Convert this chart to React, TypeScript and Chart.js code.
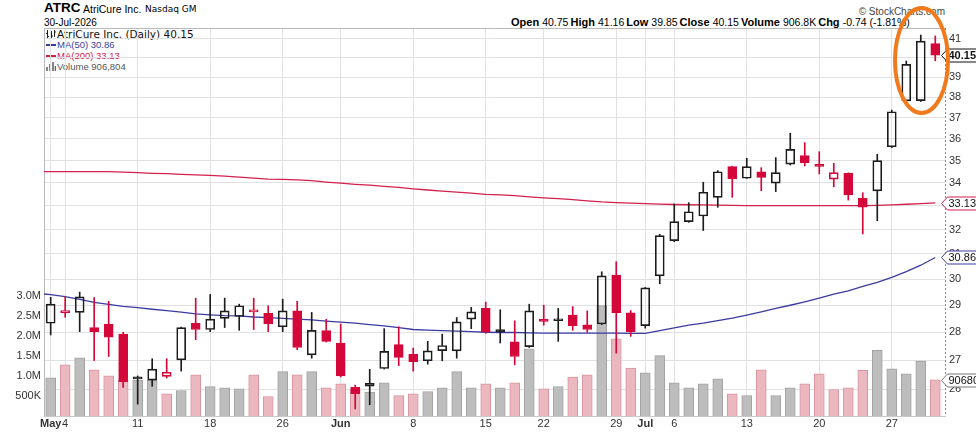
import React, { useEffect, useRef } from "react";
import { Chart, registerables } from "chart.js";

Chart.register(...registerables);

// ---------- data ----------
const dates = [
  "May 1", "May 4", "May 5", "May 6", "May 7", "May 8",
  "May 11", "May 12", "May 13", "May 14", "May 15",
  "May 18", "May 19", "May 20", "May 21", "May 22",
  "May 26", "May 27", "May 28", "May 29",
  "Jun 1", "Jun 2", "Jun 3", "Jun 4", "Jun 5",
  "Jun 8", "Jun 9", "Jun 10", "Jun 11", "Jun 12",
  "Jun 15", "Jun 16", "Jun 17", "Jun 18",
  "Jun 22", "Jun 23", "Jun 24", "Jun 25", "Jun 26",
  "Jun 29", "Jun 30", "Jul 1", "Jul 2",
  "Jul 6", "Jul 7", "Jul 8", "Jul 9", "Jul 10",
  "Jul 13", "Jul 14", "Jul 15", "Jul 16", "Jul 17",
  "Jul 20", "Jul 21", "Jul 22", "Jul 23", "Jul 24",
  "Jul 27", "Jul 28", "Jul 29", "Jul 30",
];

const opens = [
  28.33, 28.72, 28.73, 28.17, 28.30, 27.93,
  26.40, 26.31, 26.44, 27.01, 28.33,
  28.10, 28.51, 28.58, 28.75, 28.70,
  28.20, 28.79, 27.19, 28.06,
  27.61, 26.06, 26.10, 26.71, 27.55,
  27.21, 26.98, 27.34, 27.33, 28.48,
  28.88, 28.05, 27.65, 27.48,
  28.44, 28.42, 28.63, 28.27, 28.30,
  30.16, 28.72, 28.24, 30.13,
  31.54, 32.33, 32.57, 33.37, 34.73,
  34.21, 34.50, 33.99, 34.84, 35.23,
  34.78, 34.17, 34.43, 33.33, 33.65,
  35.64, 37.83, 37.84, 40.75,
];
const highs = [
  29.30, 29.32, 29.50, 29.29, 29.15, 28.00,
  26.45, 27.05, 27.05, 28.19, 29.27,
  29.41, 29.27, 29.04, 29.27, 28.98,
  29.23, 29.15, 28.73, 28.48,
  28.30, 26.14, 26.68, 28.13, 28.20,
  27.43, 27.67, 27.93, 28.54, 28.92,
  29.12, 28.83, 28.42, 29.04,
  29.00, 28.88, 28.95, 28.79, 30.29,
  30.69, 28.80, 29.68, 31.80,
  33.08, 33.14, 34.03, 34.55, 34.75,
  35.11, 34.68, 35.14, 36.27, 35.83,
  35.41, 34.88, 34.45, 33.57, 35.29,
  37.38, 39.84, 41.21, 41.16,
];
const lows = [
  27.90, 28.55, 28.02, 26.99, 27.13, 26.06,
  25.50, 26.10, 26.38, 26.62, 27.73,
  28.02, 28.17, 28.07, 28.10, 28.02,
  28.02, 27.37, 27.07, 27.65,
  26.42, 25.34, 25.48, 26.69, 26.81,
  26.62, 26.86, 26.98, 27.07, 28.13,
  27.96, 27.61, 26.84, 27.45,
  28.26, 27.67, 28.07, 28.00, 28.28,
  27.25, 27.85, 28.15, 29.82,
  31.50, 32.30, 31.96, 32.94, 33.37,
  34.20, 33.66, 33.62, 34.80, 34.76,
  34.40, 33.83, 33.25, 31.82, 32.37,
  35.60, 37.80, 37.80, 39.85,
];
const closes = [
  29.04, 28.80, 29.32, 28.02, 27.82, 26.26,
  26.35, 26.69, 26.58, 28.17, 28.10,
  28.48, 28.79, 28.98, 28.82, 28.30,
  28.79, 27.45, 28.07, 27.67,
  26.45, 25.85, 26.20, 27.31, 27.10,
  26.95, 27.33, 27.52, 28.38, 28.75,
  28.00, 28.02, 27.13, 28.79,
  28.40, 28.44, 28.24, 28.10, 30.13,
  28.72, 28.02, 29.66, 31.75,
  32.33, 32.75, 33.59, 34.50, 34.18,
  34.73, 34.25, 34.46, 35.52, 34.91,
  34.74, 34.46, 33.47, 32.94, 35.00,
  37.30, 39.67, 40.89, 40.15,
];
const priorClose = 28.5; // close of Apr 30, before the first bar

const volumes = [
  955000, 1280000, 1455000, 1155000, 1005000, 900000,
  900000, 890000, 555000, 637000, 1030000,
  737000, 705000, 680000, 1030000, 487000,
  1110000, 1030000, 1110000, 705000,
  805000, 680000, 595000, 830000, 512000,
  555000, 612000, 705000, 1110000, 705000,
  805000, 705000, 830000, 1680000,
  680000, 737000, 970000, 1030000, 2760000,
  1930000, 1200000, 1080000, 1510000,
  830000, 705000, 805000, 930000, 555000,
  512000, 1155000, 512000, 705000, 805000,
  1055000, 662000, 705000, 1140000, 1640000,
  1180000, 1055000, 1370000, 906804,
];

// moving averages: first value is Apr 30 (the day before the first bar), then one per bar
const ma50 = [
  29.46,
  29.40, 29.33, 29.22, 29.11, 29.03, 28.96,
  28.91, 28.85, 28.80, 28.74, 28.68,
  28.64, 28.61, 28.60, 28.56, 28.54,
  28.51, 28.48, 28.45, 28.41,
  28.37, 28.33, 28.28, 28.23, 28.17,
  28.10, 28.08, 28.06, 28.04, 28.02,
  28.00, 27.99, 27.99, 27.98,
  27.97, 27.97, 27.97, 27.97, 27.97,
  27.97, 27.96, 27.96, 28.06,
  28.16, 28.26, 28.33, 28.43, 28.52,
  28.63, 28.75, 28.88, 29.00, 29.13,
  29.27, 29.42, 29.55, 29.72, 29.88,
  30.07, 30.30, 30.55, 30.86,
];
const ma200 = [
  34.50,
  34.50, 34.50, 34.50, 34.50, 34.50, 34.48,
  34.46, 34.43, 34.41, 34.38, 34.36,
  34.34, 34.30, 34.26, 34.21, 34.17,
  34.16, 34.14, 34.10, 34.04,
  33.99, 33.94, 33.90, 33.85, 33.80,
  33.74, 33.69, 33.64, 33.60, 33.55,
  33.50, 33.48, 33.44, 33.39,
  33.35, 33.31, 33.27, 33.22, 33.17,
  33.14, 33.12, 33.10, 33.08,
  33.06, 33.05, 33.04, 33.03, 33.02,
  33.01, 33.01, 33.01, 33.01, 33.01,
  33.01, 33.01, 33.01, 33.01, 33.02,
  33.04, 33.07, 33.10, 33.13,
];

const xTickIndex = [0, 1, 6, 11, 16, 20, 25, 30, 34, 39, 41, 43, 48, 53, 58];
const xTickLabels = ["May", "4", "11", "18", "26", "Jun", "8", "15", "22", "29", "Jul", "6", "13", "20", "27"];
const monthLabels = ["May", "Jun", "Jul"];
const priceTicks = [26, 27, 28, 29, 30, 31, 32, 33, 34, 35, 36, 37, 38, 39, 40, 41];
const volumeTicks = [500000, 1000000, 1500000, 2000000, 2500000, 3000000];
const volumeTickLabels = ["500K", "1.0M", "1.5M", "2.0M", "2.5M", "3.0M"];

// ---------- styles ----------
const SANS = "'Liberation Sans', Arial, Helvetica, sans-serif";
const VERA = "'DejaVu Sans', Verdana, sans-serif";
const RED = "#d4073a";
const BLACK = "#1c1c1c";
const MA50_COLOR = "#3b3ba0";
const MA200_COLOR = "#d3204c";
const GRID = "#e1e1e1";
const ORANGE = "#f07a1c";

const last = closes.length - 1;

function Label(props: {
  x: number; base: number; size: number; font?: string; bold?: boolean;
  color?: string; right?: boolean; children: any;
}) {
  const style: any = {
    position: "absolute",
    top: props.base - 0.85 * props.size,
    fontSize: props.size,
    lineHeight: props.size + "px",
    fontFamily: props.font || SANS,
    fontWeight: props.bold ? 700 : 400,
    color: props.color || "#000",
    whiteSpace: "nowrap",
  };
  if (props.right) style.right = 976 - props.x;
  else style.left = props.x;
  return <div style={style}>{props.children}</div>;
}

export default function App() {
  const ref = useRef<HTMLCanvasElement | null>(null);

  useEffect(() => {
    document.body.style.margin = "0";
    const canvas = ref.current;
    if (!canvas) return;

    const prev = closes.map((_, i) => (i === 0 ? priorClose : closes[i - 1]));
    const candleColor = closes.map((c, i) => (c >= prev[i] ? BLACK : RED));
    const hollow = closes.map((c, i) => c >= opens[i]);
    const bodyFill = hollow.map((h, i) => (h ? "rgba(255,255,255,0)" : candleColor[i]));
    const volFill = closes.map((c, i) => (c >= prev[i] ? "#bdbdbd" : "#ebb8c0"));
    const volBorder = closes.map((c, i) => (c >= prev[i] ? "#a2a2a2" : "#d9949f"));

    const bodyData = opens.map((o, i) => ({ x: i, y: [o, closes[i]] }));
    const upperWick = opens.map((o, i) => ({ x: i, y: [Math.max(o, closes[i]), highs[i]] }));
    const lowerWick = opens.map((o, i) => ({ x: i, y: [lows[i], Math.min(o, closes[i])] }));
    const volData = volumes.map((v, i) => ({ x: i, y: v }));
    const ma50Data = ma50.map((v, i) => ({ x: i - 1, y: v }));
    const ma200Data = ma200.map((v, i) => ({ x: i - 1, y: v }));

    const framePlugin = {
      id: "frame",
      beforeDatasetsDraw(chart: any) {
        const { ctx, chartArea } = chart;
        ctx.save();
        ctx.strokeStyle = "#b9b9b9";
        ctx.lineWidth = 1;
        ctx.beginPath();
        ctx.moveTo(chartArea.left, chartArea.top + 0.5);
        ctx.lineTo(chartArea.right, chartArea.top + 0.5);
        ctx.stroke();
        // dotted price-axis line
        ctx.strokeStyle = "#8a8a8a";
        ctx.setLineDash([2, 2]);
        ctx.beginPath();
        ctx.moveTo(chartArea.right + 0.5, chartArea.top);
        ctx.lineTo(chartArea.right + 0.5, chartArea.bottom);
        ctx.stroke();
        ctx.restore();
      },
    };

    const tags = [
      { axis: "y", value: closes[last], text: closes[last].toFixed(2), stroke: "#111", bold: true },
      { axis: "y", value: ma200[ma200.length - 1], text: ma200[ma200.length - 1].toFixed(2), stroke: MA200_COLOR, bold: false },
      { axis: "y", value: ma50[ma50.length - 1], text: ma50[ma50.length - 1].toFixed(2), stroke: MA50_COLOR, bold: false },
      { axis: "yVol", value: volumes[last], text: String(volumes[last]), stroke: "#777", bold: false },
    ];

    const tagPlugin = {
      id: "tags",
      afterDraw(chart: any) {
        const { ctx, chartArea, width } = chart;
        ctx.save();
        for (const t of tags) {
          const y = Math.round(chart.scales[t.axis].getPixelForValue(t.value)) + 0.5;
          const tip = chartArea.right - 3.5;
          const h = 6.5;
          ctx.beginPath();
          ctx.moveTo(tip, y);
          ctx.lineTo(tip + 6, y - h);
          ctx.lineTo(width + 2, y - h);
          ctx.lineTo(width + 2, y + h);
          ctx.lineTo(tip + 6, y + h);
          ctx.closePath();
          ctx.fillStyle = "#fff";
          ctx.fill();
          ctx.strokeStyle = t.stroke;
          ctx.lineWidth = 1;
          ctx.stroke();
          ctx.fillStyle = "#111";
          ctx.font = (t.bold ? "bold " : "") + "11px " + SANS;
          ctx.textBaseline = "middle";
          ctx.textAlign = "left";
          ctx.fillText(t.text, tip + 7, y + 0.5);
        }
        // highlight ellipse around the last bars
        const cx = chart.scales.x.getPixelForValue(60.05);
        const cy = chart.scales.y.getPixelForValue(39.87);
        ctx.beginPath();
        ctx.ellipse(cx, cy, 26.5, 52.5, 0, 0, Math.PI * 2);
        ctx.strokeStyle = ORANGE;
        ctx.lineWidth = 4;
        ctx.stroke();
        ctx.restore();
      },
    };

    const chart = new Chart(canvas, {
      type: "bar",
      data: {
        datasets: [
          {
            type: "bar", label: "Body", data: bodyData as any, xAxisID: "x", yAxisID: "y",
            backgroundColor: bodyFill, borderColor: candleColor, borderWidth: 1,
            borderSkipped: false, barThickness: 9, grouped: false, minBarLength: 2, order: 0,
          } as any,
          {
            type: "bar", label: "Upper wick", data: upperWick as any, xAxisID: "x", yAxisID: "y",
            backgroundColor: candleColor, borderWidth: 0, barThickness: 1, grouped: false, order: 1,
          } as any,
          {
            type: "bar", label: "Lower wick", data: lowerWick as any, xAxisID: "x", yAxisID: "y",
            backgroundColor: candleColor, borderWidth: 0, barThickness: 1, grouped: false, order: 1,
          } as any,
          {
            type: "line", label: "MA(50)", data: ma50Data as any, xAxisID: "x", yAxisID: "y",
            borderColor: MA50_COLOR, borderWidth: 1.3, pointRadius: 0, tension: 0, order: 2,
          } as any,
          {
            type: "line", label: "MA(200)", data: ma200Data as any, xAxisID: "x", yAxisID: "y",
            borderColor: MA200_COLOR, borderWidth: 1.3, pointRadius: 0, tension: 0, order: 3,
          } as any,
          {
            type: "bar", label: "Volume", data: volData as any, xAxisID: "x", yAxisID: "yVol",
            backgroundColor: volFill, borderColor: volBorder, borderWidth: 1,
            borderSkipped: "start", barThickness: 10, grouped: false, order: 5,
          } as any,
        ],
      },
      options: {
        responsive: false,
        animation: false,
        layout: { padding: { top: 28, left: 0, right: 0, bottom: 0 } },
        plugins: { legend: { display: false }, tooltip: { enabled: false } },
        scales: {
          x: {
            type: "linear", position: "bottom", min: -0.46, max: 61.67, offset: false,
            grid: { color: GRID, drawTicks: false, offset: false },
            border: { display: true, color: "#c9c9c9" },
            ticks: {
              autoSkip: false, maxRotation: 0, padding: 1, color: "#333",
              font: (ctx: any) => {
                const idx = xTickIndex.indexOf(ctx.tick ? ctx.tick.value : -99);
                const lbl = idx >= 0 ? xTickLabels[idx] : "";
                return { family: SANS, size: 11, weight: monthLabels.includes(lbl) ? "bold" : "normal" };
              },
              callback: (_v: any, index: number) => xTickLabels[index],
            },
            afterBuildTicks: (axis: any) => { axis.ticks = xTickIndex.map((v) => ({ value: v })); },
            afterFit: (axis: any) => { axis.height = 16; },
          },
          y: {
            type: "logarithmic", position: "right", min: 25.11, max: 41.59,
            grid: { color: GRID, drawTicks: false },
            border: { display: false },
            ticks: { color: "#333", padding: 4, font: { family: SANS, size: 11 }, callback: (v: any) => String(v) },
            afterBuildTicks: (axis: any) => { axis.ticks = priceTicks.map((v) => ({ value: v })); },
            afterFit: (axis: any) => { axis.width = 31; },
          },
          yVol: {
            type: "linear", position: "left", min: 0, max: 9700000,
            grid: { display: false, drawTicks: false },
            border: { display: true, color: "#b9b9b9" },
            ticks: {
              color: "#333", padding: 3, font: { family: SANS, size: 11 },
              callback: (_v: any, index: number) => volumeTickLabels[index],
            },
            afterBuildTicks: (axis: any) => { axis.ticks = volumeTicks.map((v) => ({ value: v })); },
            afterFit: (axis: any) => { axis.width = 44; },
          },
        },
      } as any,
      plugins: [framePlugin, tagPlugin],
    });

    return () => chart.destroy();
  }, []);

  const chg = closes[last] - closes[last - 1];
  const chgPct = (chg / closes[last - 1]) * 100;
  const val = { fontSize: 10.5, marginRight: 2 };

  return (
    <div style={{ position: "relative", width: 976, height: 432, background: "#fff", overflow: "hidden" }}>
      <Label x={44} base={12.5} size={13.5} bold>ATRC</Label>
      <Label x={83} base={12.5} size={10.5}>AtriCure Inc.</Label>
      <Label x={145} base={12.5} size={9} font={VERA}>Nasdaq GM</Label>
      <Label x={44} base={26} size={10}>30-Jul-2026</Label>
      <Label x={945} base={15} size={10} color="#444" right>© StockCharts.com</Label>
      <Label x={511} base={26} size={11}>
        <b>Open</b> <span style={val}>{opens[last].toFixed(2)}</span>
        <b>High</b> <span style={val}>{highs[last].toFixed(2)}</span>
        <b>Low</b> <span style={val}>{lows[last].toFixed(2)}</span>
        <b>Close</b> <span style={val}>{closes[last].toFixed(2)}</span>
        <b>Volume</b> <span style={val}>{(volumes[last] / 1000).toFixed(1)}K</span>
        <b>Chg</b> <span style={{ fontSize: 10.5 }}>{chg.toFixed(2)} ({chgPct.toFixed(2)}%)</span>
      </Label>

      {/* legend */}
      <svg style={{ position: "absolute", left: 46, top: 30 }} width={10} height={9}>
        <path d="M1.5 0 V9 M0 3.5 H1.5 M1.5 6.5 H3 M5.5 1 V8 M4 2.5 H5.5 M5.5 6 H7 M8.5 0 V7 M8.5 2 H10" stroke="#222" strokeWidth={1} fill="none" />
      </svg>
      <Label x={57} base={38} size={10.5} font={VERA} color="#111">
        AtriCure Inc. (Daily) {closes[last].toFixed(2)}
      </Label>
      <div style={{ position: "absolute", left: 46, top: 44, width: 10, height: 2, background: MA50_COLOR }} />
      <Label x={57} base={48.5} size={9.5} color={MA50_COLOR}>MA(50) {ma50[ma50.length - 1].toFixed(2)}</Label>
      <div style={{ position: "absolute", left: 46, top: 55, width: 10, height: 2, background: MA200_COLOR }} />
      <Label x={57} base={59.5} size={9.5} color={MA200_COLOR}>MA(200) {ma200[ma200.length - 1].toFixed(2)}</Label>
      <svg style={{ position: "absolute", left: 46, top: 62 }} width={10} height={9}>
        <path d="M1 9 V5 M4 9 V2 M7 9 V0 M9.5 9 V4" stroke="#666" strokeWidth={1.6} fill="none" />
      </svg>
      <Label x={57} base={70.5} size={9.5} color="#555">Volume {volumes[last].toLocaleString("en-US")}</Label>

      <canvas
        ref={ref}
        width={976}
        height={432}
        style={{ position: "absolute", left: 0, top: 0, width: 976, height: 432 }}
      />
    </div>
  );
}
